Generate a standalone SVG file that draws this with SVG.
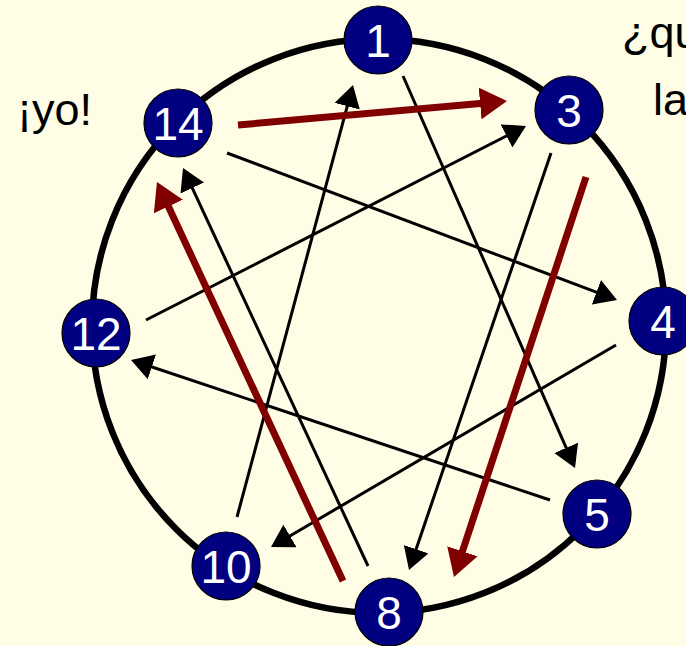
<svg xmlns="http://www.w3.org/2000/svg" width="686" height="646" viewBox="0 0 686 646">
<style>
.bg{fill:#FFFDE6}
.ring{fill:none;stroke:#000;stroke-width:6.5}
.node circle{fill:#000080;stroke:#000;stroke-width:1.2}
.node text{fill:#fff;font-family:"Liberation Sans","DejaVu Sans",sans-serif;font-size:46px;text-anchor:middle}
.lbl{fill:#000;font-family:"Liberation Sans","DejaVu Sans",sans-serif;font-size:45px}
.blk{stroke:#000;stroke-width:3;fill:none;marker-end:url(#ab)}
.red{stroke:#800000;stroke-width:7;fill:none;marker-end:url(#ar)}
</style>
<defs>
<marker id="ab" markerUnits="userSpaceOnUse" markerWidth="22" markerHeight="26" viewBox="0 0 22 26" refX="14" refY="13" orient="auto"><path d="M0,0 L22,13 L0,26 z" fill="#000"/></marker>
<marker id="ar" markerUnits="userSpaceOnUse" markerWidth="27" markerHeight="32" viewBox="0 0 27 32" refX="17" refY="16" orient="auto"><path d="M0,0 L27,16 L0,32 z" fill="#800000"/></marker>
</defs>
<rect class="bg" x="0" y="0" width="686" height="646"/>
<circle class="ring" cx="379" cy="326" r="287"/>
<text class="lbl" x="17" y="125">¡yo!</text>
<text class="lbl" x="622" y="48">¿qu</text>
<text class="lbl" x="653" y="115">la</text>
<g id="connectors">
<line class="blk" x1="227" y1="153" x2="609.5" y2="297.2"/>
<line class="blk" x1="403" y1="76" x2="571.8" y2="460.7"/>
<line class="blk" x1="146" y1="320" x2="518.9" y2="129.6"/>
<line class="blk" x1="616" y1="345" x2="277.9" y2="543"/>
<line class="blk" x1="550" y1="500" x2="138.6" y2="362.5"/>
<line class="blk" x1="237" y1="517" x2="350.9" y2="92.7"/>
<line class="blk" x1="551" y1="153" x2="411.6" y2="562.4"/>
<line class="blk" x1="368" y1="566" x2="186.4" y2="175.3"/>
<line class="red" x1="238" y1="125" x2="497" y2="101.9"/>
<line class="red" x1="586" y1="177" x2="457.1" y2="567.5"/>
<line class="red" x1="343" y1="581" x2="161.2" y2="191.1"/>
</g>
<g id="n1" class="node"><circle cx="378" cy="40" r="34"/><text x="378" y="56.5">1</text></g>
<g id="n3" class="node"><circle cx="569" cy="110" r="34"/><text x="569" y="126.5">3</text></g>
<g id="n4" class="node"><circle cx="663" cy="321" r="34"/><text x="663" y="337.5">4</text></g>
<g id="n5" class="node"><circle cx="597" cy="514" r="34"/><text x="597" y="530.5">5</text></g>
<g id="n8" class="node"><circle cx="389" cy="612" r="34"/><text x="389" y="628.5">8</text></g>
<g id="n10" class="node"><circle cx="226" cy="566" r="34"/><text x="226" y="582.5">10</text></g>
<g id="n12" class="node"><circle cx="96" cy="333" r="34"/><text x="96" y="349.5">12</text></g>
<g id="n14" class="node"><circle cx="178" cy="123" r="34"/><text x="178" y="139.5">14</text></g>
</svg>
